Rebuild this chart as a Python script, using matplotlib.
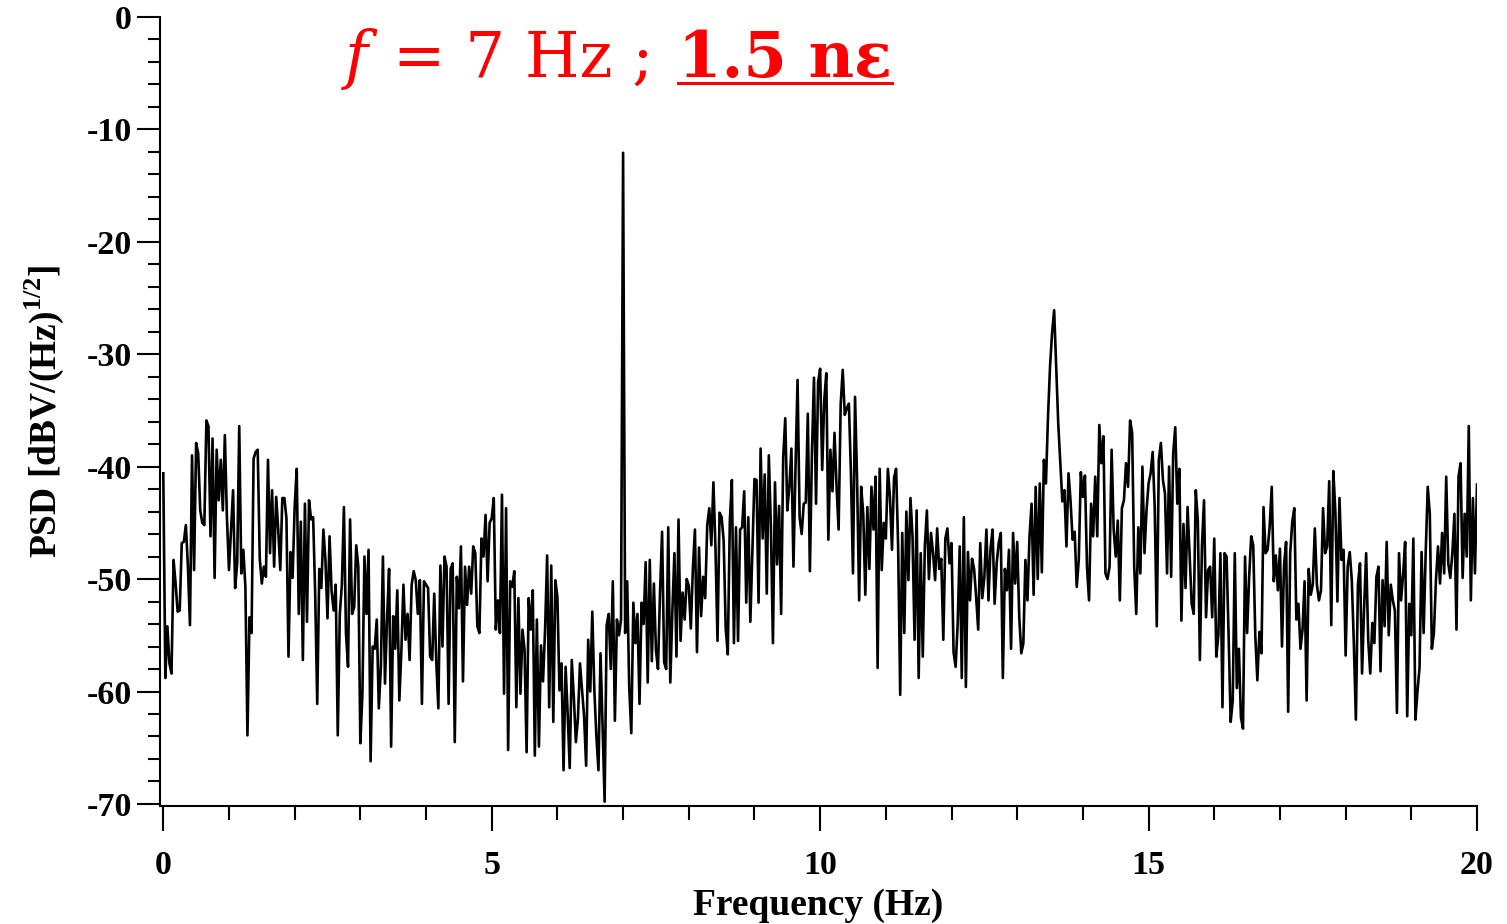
import numpy as np
import matplotlib
matplotlib.use('Agg')
import matplotlib.pyplot as plt
from matplotlib.ticker import MultipleLocator
from matplotlib.lines import Line2D

plt.rcParams['font.family'] = ['Liberation Serif', 'DejaVu Serif']
plt.rcParams['axes.unicode_minus'] = False
plt.rcParams['mathtext.fontset'] = 'custom'
plt.rcParams['mathtext.rm'] = 'Liberation Serif:bold'
plt.rcParams['mathtext.bf'] = 'Liberation Serif:bold'

# PSD (dBV/sqrt(Hz)), 32 values per Hz, two lines per Hz
psd_00_05 = [
    -40.6, -58.8, -54.2, -57.5, -58.4, -48.3, -50.4, -52.9, -52.8, -46.8, -46.7, -45.2, -48.9, -54.1, -39.0, -49.2,
    -37.9, -38.8, -43.9, -45.0, -45.2, -35.9, -36.4, -46.2, -37.5, -49.9, -38.5, -43.0, -39.4, -43.9, -37.2, -44.5,
    -49.2, -45.6, -42.1, -50.8, -48.6, -36.4, -49.5, -47.4, -50.7, -63.9, -53.4, -54.8, -39.3, -38.7, -38.5, -48.2,
    -50.4, -48.9, -49.8, -39.4, -47.7, -42.1, -48.9, -42.7, -45.6, -49.2, -42.8, -42.8, -44.6, -56.9, -47.6, -49.9,
    -43.6, -40.2, -53.1, -44.9, -57.2, -43.3, -53.8, -43.0, -44.7, -44.5, -51.3, -61.1, -49.1, -50.8, -45.6, -48.3,
    -53.5, -46.2, -51.1, -52.8, -50.5, -63.9, -53.1, -50.5, -43.6, -54.8, -57.8, -44.7, -53.1, -52.5, -47.0, -48.9,
    -64.6, -60.2, -48.0, -53.1, -47.4, -66.2, -56.0, -56.2, -53.6, -61.5, -57.8, -48.0, -59.3, -53.6, -49.1, -64.9,
    -53.3, -56.2, -51.0, -60.8, -56.3, -50.5, -55.4, -53.1, -57.2, -50.5, -49.3, -50.1, -53.1, -50.1, -61.1, -50.2,
    -50.5, -50.8, -56.9, -57.2, -51.3, -57.4, -61.5, -48.8, -56.0, -48.0, -48.9, -61.1, -49.1, -48.6, -64.5, -49.8,
    -52.6, -47.1, -59.1, -48.9, -52.3, -48.9, -51.3, -47.1, -47.7, -54.2, -54.8, -46.4, -48.0, -44.3, -50.2, -45.0,
]
psd_05_10 = [
    -44.6, -42.8, -54.5, -51.9, -54.8, -42.5, -60.2, -43.7, -65.2, -50.2, -50.7, -49.3, -61.4, -51.7, -60.2, -54.5,
    -56.3, -65.4, -51.7, -54.5, -51.0, -65.7, -53.6, -64.9, -55.9, -59.1, -54.5, -47.9, -61.4, -48.8, -62.7, -50.1,
    -51.6, -59.9, -57.5, -67.0, -57.8, -62.0, -66.8, -57.2, -60.5, -64.5, -62.4, -57.5, -59.9, -62.2, -66.6, -55.4,
    -60.0, -52.9, -59.9, -64.0, -67.0, -56.6, -63.0, -69.8, -54.1, -53.1, -58.0, -50.2, -62.6, -53.6, -55.0, -53.6,
    -12.1, -54.8, -50.2, -59.7, -63.7, -52.1, -55.7, -53.1, -61.1, -52.1, -54.0, -48.5, -59.2, -48.3, -57.3, -50.4,
    -56.3, -58.0, -51.2, -45.8, -57.4, -58.0, -45.4, -59.2, -52.9, -47.7, -56.9, -44.7, -55.5, -51.2, -53.6, -50.0,
    -50.6, -54.4, -49.1, -45.6, -56.5, -47.2, -53.3, -49.8, -51.7, -45.2, -43.7, -47.0, -41.4, -47.2, -55.5, -44.1,
    -44.5, -46.6, -54.4, -56.7, -44.9, -41.2, -55.7, -45.4, -55.5, -45.6, -45.4, -42.2, -52.1, -44.5, -53.8, -47.5,
    -41.1, -41.2, -52.1, -38.4, -46.4, -40.7, -51.3, -39.0, -45.3, -55.7, -41.4, -48.7, -43.5, -53.1, -39.2, -35.7,
    -43.9, -41.8, -38.4, -48.9, -40.1, -32.3, -44.5, -46.0, -43.3, -43.2, -35.3, -49.3, -38.8, -32.1, -43.3, -32.5,
]
psd_10_15 = [
    -31.3, -40.3, -34.1, -31.7, -46.5, -38.5, -42.2, -37.0, -41.8, -45.6, -34.5, -31.4, -35.4, -34.8, -34.4, -40.6,
    -49.5, -33.8, -41.2, -51.9, -41.8, -44.2, -51.4, -43.6, -49.1, -41.8, -45.6, -40.9, -57.9, -40.2, -49.2, -45.0,
    -46.4, -40.2, -42.7, -47.4, -41.0, -40.2, -47.1, -60.3, -45.9, -54.8, -44.0, -50.1, -42.8, -46.2, -55.4, -43.9,
    -58.8, -47.7, -56.9, -47.1, -43.9, -50.0, -45.9, -47.7, -50.1, -45.5, -49.1, -48.2, -55.4, -46.4, -45.5, -48.6,
    -46.8, -56.5, -57.8, -54.0, -47.1, -58.8, -44.5, -59.6, -47.6, -51.9, -48.2, -49.1, -51.6, -54.5, -46.8, -51.7,
    -49.8, -45.6, -51.9, -47.3, -45.6, -52.2, -48.6, -46.8, -45.9, -58.8, -49.1, -51.0, -47.4, -56.2, -45.9, -50.4,
    -46.7, -53.4, -56.6, -55.7, -48.3, -51.9, -46.2, -43.3, -51.4, -41.8, -50.0, -41.5, -49.4, -39.4, -41.5, -35.6,
    -31.1, -28.1, -26.1, -31.1, -36.2, -39.7, -43.1, -42.1, -47.1, -40.6, -43.1, -46.5, -45.8, -50.7, -48.3, -40.5,
    -42.7, -40.8, -48.9, -51.9, -43.3, -46.2, -40.9, -46.2, -36.3, -39.7, -37.3, -49.5, -50.0, -48.9, -38.5, -45.6,
    -48.0, -44.8, -51.9, -43.7, -43.0, -39.7, -41.8, -35.9, -37.0, -48.9, -53.1, -45.4, -49.5, -40.0, -47.7, -43.9,
]
psd_15_20 = [
    -41.5, -40.6, -38.7, -43.7, -54.2, -39.4, -37.9, -41.2, -42.4, -49.5, -40.0, -49.8, -38.8, -36.5, -43.3, -40.2,
    -53.7, -45.1, -50.8, -43.6, -48.0, -52.2, -53.1, -42.1, -44.8, -57.2, -47.1, -43.0, -53.4, -49.2, -48.9, -53.4,
    -46.4, -56.9, -55.0, -47.7, -61.4, -47.7, -48.0, -55.1, -62.7, -60.8, -47.7, -59.7, -56.2, -62.3, -63.3, -48.0,
    -54.8, -49.8, -46.2, -47.0, -55.1, -59.0, -54.7, -56.6, -43.6, -47.7, -47.4, -45.3, -41.8, -50.2, -47.9, -51.0,
    -47.3, -56.0, -48.8, -46.7, -61.8, -47.7, -44.9, -43.7, -53.6, -52.2, -56.2, -54.5, -50.2, -60.8, -49.1, -51.4,
    -50.5, -45.5, -50.5, -51.9, -51.0, -43.7, -47.7, -47.1, -41.3, -54.1, -40.4, -44.0, -52.0, -42.8, -48.3, -47.4,
    -56.8, -48.9, -47.6, -50.1, -55.7, -62.5, -50.5, -48.6, -58.4, -52.6, -47.7, -55.4, -58.4, -53.9, -55.7, -49.8,
    -48.9, -58.2, -50.1, -54.2, -46.7, -55.0, -50.5, -51.9, -52.8, -61.9, -47.7, -51.9, -49.6, -46.7, -62.2, -52.2,
    -55.0, -46.4, -62.5, -60.0, -57.9, -47.6, -54.8, -47.7, -41.8, -44.2, -56.2, -54.8, -50.1, -47.1, -50.4, -45.9,
    -49.5, -40.9, -48.6, -49.9, -47.7, -44.2, -54.5, -40.9, -39.7, -49.9, -44.2, -48.0, -36.4, -51.9, -42.8, -49.5,
    -41.6,
]

psd = np.array(psd_00_05 + psd_05_10 + psd_10_15 + psd_15_20)
freq = np.linspace(0, 20, len(psd))

x_ticks = [0, 5, 10, 15, 20]
y_ticks = [0, -10, -20, -30, -40, -50, -60, -70]

W, H = 1507, 924
fig = plt.figure(figsize=(W / 100, H / 100), dpi=100)
ax = fig.add_axes([160 / W, 1 - 806 / H, (1477 - 160) / W, (806 - 16.7) / H])

ax.plot(freq, psd, color='black', lw=1.9)

ax.set_xlim(-0.05, 20)
ax.set_ylim(-70.18, 0)
for side in ['top', 'right']:
    ax.spines[side].set_visible(False)
for side in ['left', 'bottom']:
    ax.spines[side].set_linewidth(1.5)

ax.set_xticks(x_ticks, labels=[str(t) for t in x_ticks], fontsize=24.5, fontweight='bold')
ax.set_yticks(y_ticks, labels=[str(t) for t in y_ticks], fontsize=24.5, fontweight='bold')
ax.xaxis.set_minor_locator(MultipleLocator(1))
ax.yaxis.set_minor_locator(MultipleLocator(2))
ax.tick_params(axis='x', which='major', direction='out', length=18, width=1.5, pad=13.5)
ax.tick_params(axis='x', which='minor', direction='out', length=10, width=1.5)
ax.tick_params(axis='y', which='major', direction='out', length=16.5, width=1.5, pad=3.8)
ax.tick_params(axis='y', which='minor', direction='out', length=9, width=1.5)

ax.set_xlabel('Frequency (Hz)', fontsize=27, fontweight='bold', labelpad=5)
ax.set_ylabel(r'PSD [dBV/(Hz)$^{\mathbf{1/2}}$]', fontsize=27, fontweight='bold', labelpad=15)

# title line in red: f = 7 Hz ; 1.5 nε (last part bold, underlined)
base = 1 - 77 / H
fig.text(345 / W, base, 'f', fontsize=45, color='red', family='DejaVu Serif',
         style='italic', va='baseline')
fig.text(393 / W, base, '= 7 Hz ;', fontsize=45, color='red', family='DejaVu Serif',
         va='baseline')
t_bold = fig.text(678 / W, base, '1.5 nε', fontsize=45, color='red', family='DejaVu Serif',
                  fontweight='bold', va='baseline')

fig.canvas.draw()
bb = t_bold.get_window_extent()
y_u = 1 - 83 / H
fig.add_artist(Line2D([bb.x0 / W, bb.x1 / W], [y_u, y_u], transform=fig.transFigure,
                      color='red', lw=2.2))

fig.savefig('out.png', dpi=100)
